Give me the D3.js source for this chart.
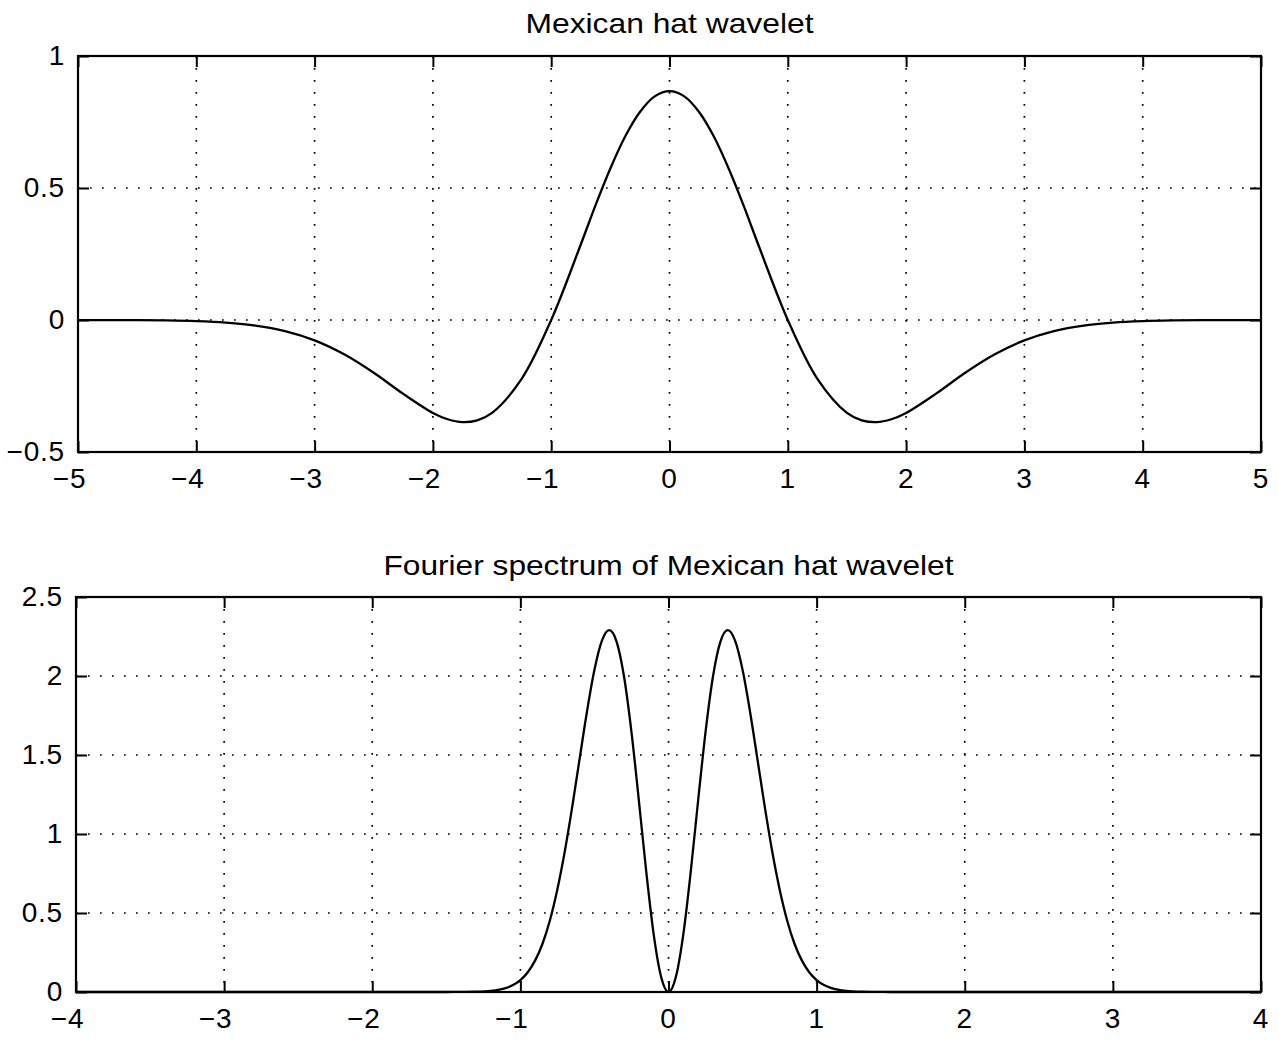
<!DOCTYPE html>
<html>
<head>
<meta charset="utf-8">
<script src="https://cdn.jsdelivr.net/npm/d3@7"></script>
<style>
  html, body { margin: 0; padding: 0; background: #fff; }
  svg { display: block; }
  text { font-family: "Liberation Sans", Arial, Helvetica, sans-serif; fill: #000; }
</style>
</head>
<body>
<script>
// ---- Data ----
const hatTitle = "Mexican hat wavelet";
const hatX = [-5, -4.75, -4.5, -4.25, -4, -3.75, -3.5, -3.25, -3, -2.75, -2.5, -2.25, -2, -1.875, -1.75, -1.625, -1.5, -1.25, -1, -0.75, -0.625, -0.5, -0.375, -0.25, -0.125,
              0, 0.125, 0.25, 0.375, 0.5, 0.625, 0.75, 1, 1.25, 1.5, 1.625, 1.75, 1.875, 2, 2.25, 2.5, 2.75, 3, 3.25, 3.5, 3.75, 4, 4.25, 4.5, 4.75, 5];
const hatY = [-0.0001, -0.0002, -0.0007, -0.0018, -0.0044, -0.010, -0.021, -0.042, -0.077, -0.130, -0.200, -0.280, -0.352, -0.376, -0.387, -0.380, -0.352, -0.223, 0, 0.286, 0.435, 0.574, 0.695, 0.788, 0.847,
              0.867, 0.847, 0.788, 0.695, 0.574, 0.435, 0.286, 0, -0.223, -0.352, -0.380, -0.387, -0.376, -0.352, -0.280, -0.200, -0.130, -0.077, -0.042, -0.021, -0.010, -0.0044, -0.0018, -0.0007, -0.0002, -0.0001];
const hatXTicks = [-5, -4, -3, -2, -1, 0, 1, 2, 3, 4, 5];
const hatYTicks = [-0.5, 0, 0.5, 1];

const specTitle = "Fourier spectrum of Mexican hat wavelet";
const specX = [-4, -3, -2, -1.5, -1.4, -1.3, -1.2, -1.1, -1.05, -1, -0.95, -0.9, -0.85, -0.8, -0.75, -0.7, -0.65, -0.6, -0.55, -0.5, -0.45, -0.4, -0.35, -0.3, -0.25, -0.2, -0.15, -0.1, -0.05,
               0, 0.05, 0.1, 0.15, 0.2, 0.25, 0.3, 0.35, 0.4, 0.45, 0.5, 0.55, 0.6, 0.65, 0.7, 0.75, 0.8, 0.85, 0.9, 0.95, 1, 1.05, 1.1, 1.2, 1.3, 1.4, 1.5, 2, 3, 4];
const specY = [0, 0, 0, 0.0001, 0.0004, 0.0017, 0.0069, 0.0244, 0.0436, 0.075, 0.125, 0.200, 0.307, 0.456, 0.651, 0.891, 1.172, 1.476, 1.777, 2.039, 2.222, 2.29, 2.216, 1.995, 1.645, 1.212, 0.760, 0.365, 0.096,
               0, 0.096, 0.365, 0.760, 1.212, 1.645, 1.995, 2.216, 2.29, 2.222, 2.039, 1.777, 1.476, 1.172, 0.891, 0.651, 0.456, 0.307, 0.200, 0.125, 0.075, 0.0436, 0.0244, 0.0069, 0.0017, 0.0004, 0.0001, 0, 0, 0];
const specXTicks = [-4, -3, -2, -1, 0, 1, 2, 3, 4];
const specYTicks = [0, 0.5, 1, 1.5, 2, 2.5];

// ---- Drawing ----
const W = 1279, H = 1041;
const svg = d3.select("body").append("svg").attr("width", W).attr("height", H);

function fmt(v) {
  const s = String(v);
  return v < 0 ? "\u2212" + s.slice(1) : s;
}

function panel(cfg) {
  const { left, right, top, bottom, xDom, yDom, xTicks, yTicks, xs, ys, title, titleY, titleLen, curve } = cfg;
  const x = d3.scaleLinear().domain(xDom).range([left, right]);
  const y = d3.scaleLinear().domain(yDom).range([bottom, top]);
  const g = svg.append("g");

  // grid
  const gridStyle = s => s.attr("stroke", "#000").attr("stroke-width", 1.7)
    .attr("stroke-dasharray", "1.7,10.3").attr("fill", "none");
  g.selectAll(".vg").data(xTicks.filter(t => t !== xDom[0] && t !== xDom[1])).join("line")
    .attr("x1", d => x(d)).attr("x2", d => x(d)).attr("y1", top).attr("y2", bottom).call(gridStyle);
  g.selectAll(".hg").data(yTicks.filter(t => t !== yDom[0] && t !== yDom[1])).join("line")
    .attr("x1", left).attr("x2", right).attr("y1", d => y(d)).attr("y2", d => y(d)).call(gridStyle);

  // curve
  const line = d3.line().x(d => x(d[0])).y(d => y(d[1])).curve(curve);
  g.append("path").datum(xs.map((v, i) => [v, ys[i]]))
    .attr("d", line).attr("fill", "none").attr("stroke", "#000").attr("stroke-width", 2.3);

  // axes (inward ticks on all sides)
  const tl = 11;
  const axB = d3.axisBottom(x).tickValues(xTicks).tickSize(-tl).tickFormat(() => "");
  const axT = d3.axisTop(x).tickValues(xTicks).tickSize(-tl).tickFormat(() => "");
  const axL = d3.axisLeft(y).tickValues(yTicks).tickSize(-tl).tickFormat(() => "");
  const axR = d3.axisRight(y).tickValues(yTicks).tickSize(-tl).tickFormat(() => "");
  [[axB, `translate(0,${bottom})`], [axT, `translate(0,${top})`], [axL, `translate(${left},0)`], [axR, `translate(${right},0)`]]
    .forEach(([ax, tr]) => {
      const a = g.append("g").attr("transform", tr).call(ax);
      a.select(".domain").remove();
      a.selectAll("line").attr("stroke", "#000").attr("stroke-width", 2);
    });
  g.append("rect").attr("x", left).attr("y", top).attr("width", right - left).attr("height", bottom - top)
    .attr("fill", "none").attr("stroke", "#000").attr("stroke-width", 2.2);

  // tick labels
  g.selectAll(".xl").data(xTicks).join("text")
    .attr("x", d => x(d)).attr("y", bottom + 36)
    .attr("dx", d => d < 0 ? -8.5 : 0)
    .attr("text-anchor", "middle").attr("font-size", 28).attr("letter-spacing", 0.8).text(fmt);
  g.selectAll(".yl").data(yTicks).join("text")
    .attr("x", left - 13).attr("y", d => y(d) + 9)
    .attr("text-anchor", "end").attr("font-size", 28).attr("letter-spacing", 0.8).text(fmt);

  // title
  g.append("text").attr("x", (left + right) / 2).attr("y", titleY)
    .attr("text-anchor", "middle").attr("font-size", 28)
    .attr("textLength", titleLen).attr("lengthAdjust", "spacingAndGlyphs").text(title);
}

panel({ left: 78, right: 1261, top: 56, bottom: 452, xDom: [-5, 5], yDom: [-0.5, 1],
        xTicks: hatXTicks, yTicks: hatYTicks, xs: hatX, ys: hatY, title: hatTitle, titleY: 33, titleLen: 288,
        curve: d3.curveCatmullRom.alpha(0.5) });
panel({ left: 76, right: 1261, top: 597, bottom: 992, xDom: [-4, 4], yDom: [0, 2.5],
        xTicks: specXTicks, yTicks: specYTicks, xs: specX, ys: specY, title: specTitle, titleY: 575, titleLen: 570,
        curve: d3.curveMonotoneX });
</script>
</body>
</html>
